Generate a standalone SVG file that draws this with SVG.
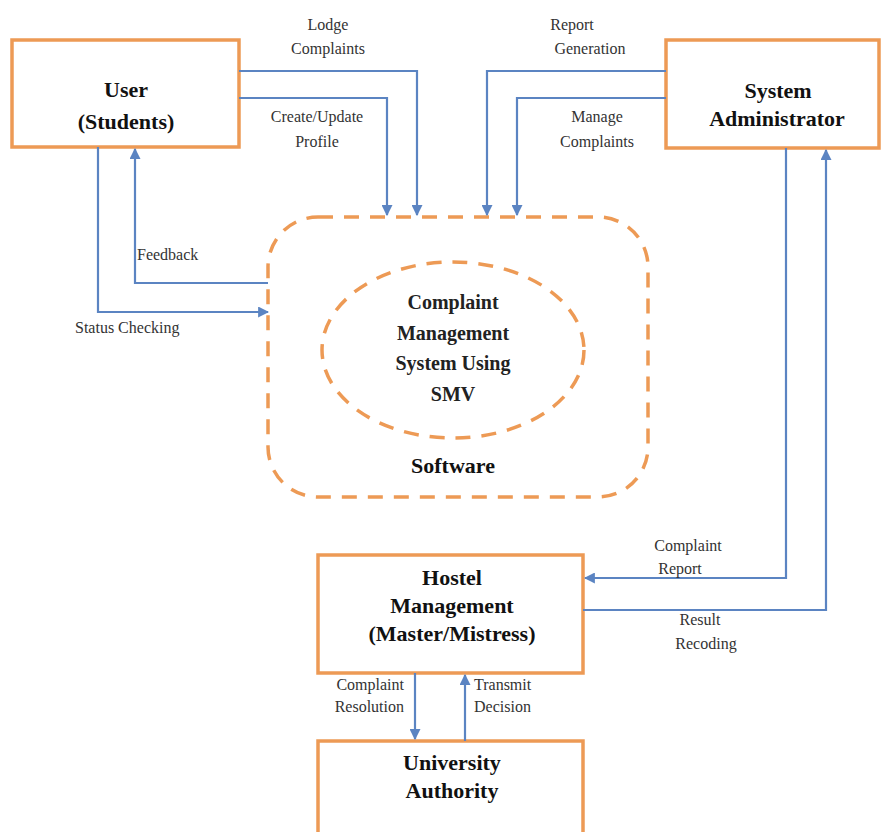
<svg xmlns="http://www.w3.org/2000/svg" width="881" height="832" viewBox="0 0 881 832">
<style>
.box{fill:#fff;stroke:#ED9A55;stroke-width:3.5}
.dash{fill:none;stroke:#ED9A55;stroke-width:3.5;stroke-dasharray:15 11}
text{font-family:'Liberation Serif','Times New Roman','DejaVu Serif',serif}
.node{font-weight:bold;font-size:22px;fill:#111;text-anchor:middle}
.inner{font-weight:bold;font-size:20px;fill:#222;text-anchor:middle}
.lbl{font-size:16px;fill:#333}
.c{text-anchor:middle}
.e{text-anchor:end}
.line{fill:none;stroke:#5B84C2;stroke-width:2.2}
</style>
<defs>
<marker id="ah" viewBox="0 0 10 10" refX="9" refY="5" markerWidth="5" markerHeight="5" orient="auto">
<path d="M0,0 L10,5 L0,10 z" fill="#5B84C2"/>
</marker>
</defs>
<g id="software">
<rect class="dash" x="268" y="217" width="380" height="280" rx="50" ry="50"/>
<ellipse class="dash" cx="453" cy="350" rx="131" ry="88"/>
<text class="inner" x="453" y="309" font-family="Liberation Serif, serif">Complaint</text>
<text class="inner" x="453" y="340" font-family="Liberation Serif, serif">Management</text>
<text class="inner" x="453" y="370" font-family="Liberation Serif, serif">System Using</text>
<text class="inner" x="453" y="401" font-family="Liberation Serif, serif">SMV</text>
<text class="node" x="453" y="473" font-family="Liberation Serif, serif">Software</text>
</g>
<g id="user">
<rect class="box" x="12" y="40" width="227" height="107"/>
<text class="node" x="126" y="97" font-family="Liberation Serif, serif">User</text>
<text class="node" x="126" y="129" font-family="Liberation Serif, serif">(Students)</text>
</g>
<g id="admin">
<rect class="box" x="666" y="40" width="213" height="108"/>
<text class="node" x="778" y="98" font-family="Liberation Serif, serif">System</text>
<text class="node" x="777" y="126" font-family="Liberation Serif, serif">Administrator</text>
</g>
<g id="hostel">
<rect class="box" x="318" y="555" width="265" height="118"/>
<text class="node" x="452" y="585" font-family="Liberation Serif, serif">Hostel</text>
<text class="node" x="452" y="613" font-family="Liberation Serif, serif">Management</text>
<text class="node" x="452" y="641" font-family="Liberation Serif, serif">(Master/Mistress)</text>
</g>
<g id="university">
<rect class="box" x="318" y="741" width="265" height="100"/>
<text class="node" x="452" y="770" font-family="Liberation Serif, serif">University</text>
<text class="node" x="452" y="798" font-family="Liberation Serif, serif">Authority</text>
</g>
<g id="connectors">
<polyline class="line" points="239,71 417,71 417,215" marker-end="url(#ah)"/>
<polyline class="line" points="239,98 387,98 387,215" marker-end="url(#ah)"/>
<polyline class="line" points="666,71 487,71 487,215" marker-end="url(#ah)"/>
<polyline class="line" points="666,98 517,98 517,215" marker-end="url(#ah)"/>
<polyline class="line" points="268,283 135,283 135,149" marker-end="url(#ah)"/>
<polyline class="line" points="98,147 98,312 268,312" marker-end="url(#ah)"/>
<polyline class="line" points="786,148 786,578 585,578" marker-end="url(#ah)"/>
<polyline class="line" points="583,610 826,610 826,150" marker-end="url(#ah)"/>
<polyline class="line" points="415,673 415,739" marker-end="url(#ah)"/>
<polyline class="line" points="465,741 465,675" marker-end="url(#ah)"/>
</g>
<g id="labels">
<text class="lbl c" x="328" y="30">Lodge</text>
<text class="lbl c" x="328" y="54">Complaints</text>
<text class="lbl c" x="317" y="122">Create/Update</text>
<text class="lbl c" x="317" y="147">Profile</text>
<text class="lbl c" x="572" y="30">Report</text>
<text class="lbl c" x="590" y="54">Generation</text>
<text class="lbl c" x="597" y="122">Manage</text>
<text class="lbl c" x="597" y="147">Complaints</text>
<text class="lbl" x="137" y="260">Feedback</text>
<text class="lbl" x="75" y="333">Status Checking</text>
<text class="lbl c" x="688" y="551">Complaint</text>
<text class="lbl c" x="680" y="574">Report</text>
<text class="lbl c" x="700" y="625">Result</text>
<text class="lbl c" x="706" y="649">Recoding</text>
<text class="lbl e" x="404" y="690">Complaint</text>
<text class="lbl e" x="404" y="712">Resolution</text>
<text class="lbl" x="474" y="690">Transmit</text>
<text class="lbl" x="474" y="712">Decision</text>
</g>
</svg>
